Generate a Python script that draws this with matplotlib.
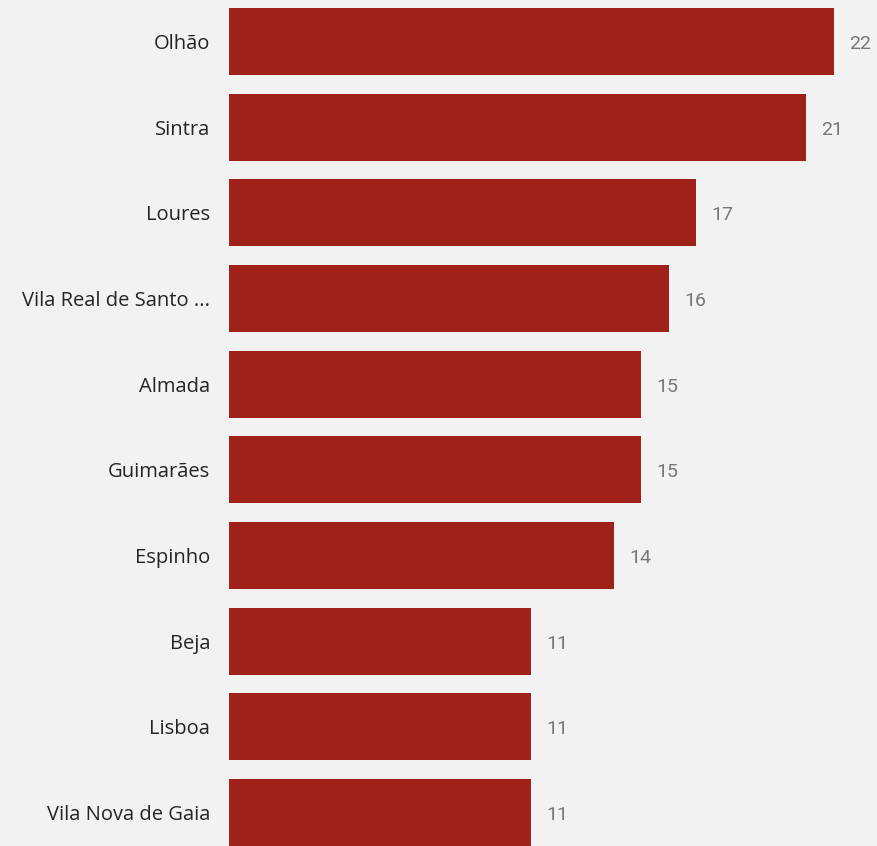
import matplotlib.pyplot as plt

cities = ['Olhão', 'Sintra', 'Loures', 'Vila Real de Santo ...', 'Almada',
          'Guimarães', 'Espinho', 'Beja', 'Lisboa', 'Vila Nova de Gaia']
counts = [22, 21, 17, 16, 15, 15, 14, 11, 11, 11]

bg = '#f2f2f2'
bar_color = '#a0211a'

fig = plt.figure(figsize=(8.78, 8.46), dpi=100, facecolor=bg)
ax = fig.add_axes([229 / 878, 0, 649 / 878, 1], facecolor=bg)

pos = list(range(len(cities)))
ax.barh(pos, counts, height=0.785, color=bar_color)

for y, v in zip(pos, counts):
    ax.text(v + 0.55, y + 0.03, str(v), va='center', ha='left',
            fontsize=14, color='#777777', family='Roboto')

ax.set_xlim(0, 649 / 27.5)
ax.set_ylim(9.391, -0.484)
ax.set_yticks(pos)
ax.set_yticklabels(cities, fontsize=14.5, color='#252423', family='Open Sans')
ax.tick_params(axis='y', length=0, pad=13.5)
ax.set_xticks([])
for s in ax.spines.values():
    s.set_visible(False)

fig.savefig('out.png', dpi=100, facecolor=bg)
